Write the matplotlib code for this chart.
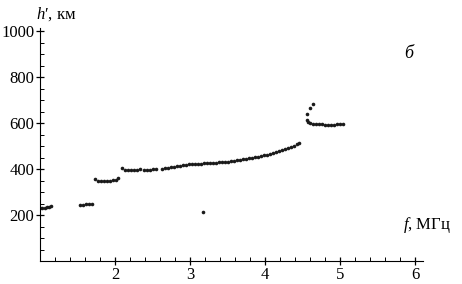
import matplotlib.pyplot as plt
from matplotlib.ticker import MultipleLocator, FixedLocator

# virtual height h' (km) vs frequency f (MHz)
f_e = [1.00, 1.03, 1.06, 1.09, 1.12, 1.15]
h_e = [232, 231, 232, 233, 235, 238]

f_es = [1.53, 1.57, 1.61, 1.65, 1.69]
h_es = [243, 244, 246, 248, 248]

f_f1a = [1.73, 1.77, 1.81, 1.85, 1.89, 1.93, 1.97, 2.01, 2.04]
h_f1a = [355, 350, 348, 348, 348, 349, 351, 354, 360]

f_f1b = [2.09, 2.13, 2.17, 2.21, 2.25, 2.29, 2.33,
         2.39, 2.43, 2.47, 2.51, 2.55]
h_f1b = [405, 397, 396, 397, 397, 397, 398,
         397, 397, 397, 398, 400]

f_f2 = [2.62, 2.66, 2.70, 2.74, 2.78, 2.82, 2.86, 2.90, 2.94, 2.98,
        3.02, 3.06, 3.10, 3.14, 3.18, 3.22, 3.26, 3.30, 3.34, 3.38,
        3.42, 3.46, 3.50, 3.54, 3.58, 3.62, 3.66, 3.70, 3.74, 3.78,
        3.82, 3.86, 3.90, 3.94, 3.98, 4.02, 4.06, 4.10, 4.14, 4.18,
        4.22, 4.26, 4.30, 4.34, 4.38, 4.42, 4.45]
h_f2 = [402, 404, 406, 408, 410, 412, 414, 416, 418, 420,
        421, 422, 423, 424, 425, 426, 427, 427, 428, 429,
        430, 431, 432, 434, 436, 438, 440, 442, 444, 446,
        448, 451, 454, 457, 460, 463, 466, 470, 474, 478,
        482, 486, 491, 496, 502, 508, 513]

f_cusp = [4.55, 4.56, 4.60, 4.64]
h_cusp = [613, 639, 664, 681]

f_x = [4.57, 4.60, 4.64, 4.68, 4.72, 4.76, 4.80, 4.84, 4.88, 4.92,
       4.96, 5.00, 5.03]
h_x = [605, 600, 597, 595, 594, 594, 593, 593, 593, 593,
       594, 595, 597]

f_out = [3.17]
h_out = [212]

plt.rcParams['font.family'] = ['Liberation Serif', 'DejaVu Serif']
plt.rcParams['mathtext.fontset'] = 'custom'
plt.rcParams['mathtext.rm'] = 'Liberation Serif'
plt.rcParams['mathtext.it'] = 'Liberation Serif:italic'

fig = plt.figure(figsize=(4.62, 2.84), dpi=100)
ax = fig.add_axes([0.0866, 0.081, 0.829, 0.820])

for fs, hs in [(f_e, h_e), (f_es, h_es), (f_f1a, h_f1a), (f_f1b, h_f1b),
               (f_f2, h_f2), (f_cusp, h_cusp), (f_x, h_x), (f_out, h_out)]:
    ax.plot(fs, hs, 'o', ms=2.6, color='#1a1a1a', mec='none')

ax.set_xlim(1.0, 6.1)
ax.set_ylim(0, 1013)
ax.spines['top'].set_visible(False)
ax.spines['right'].set_visible(False)

ax.xaxis.set_major_locator(FixedLocator([2, 3, 4, 5, 6]))
ax.xaxis.set_minor_locator(MultipleLocator(0.2))
ax.yaxis.set_major_locator(FixedLocator([200, 400, 600, 800, 1000]))
ax.yaxis.set_minor_locator(MultipleLocator(50))
ax.tick_params(which='major', direction='inout', length=6, width=0.9,
               labelsize=12, pad=1)
ax.tick_params(which='minor', direction='in', length=3, width=0.7)

ax.text(-0.01, 1.02, "$h$′, км", transform=ax.transAxes, fontsize=12,
        ha='left', va='bottom')
ax.text(0.948, 0.11, "$f$, МГц", transform=ax.transAxes, fontsize=12,
        ha='left', va='bottom')
ax.text(0.962, 0.89, "б", transform=ax.transAxes, fontsize=13,
        style='italic', ha='center', va='center')

fig.savefig('out.png', dpi=100)
